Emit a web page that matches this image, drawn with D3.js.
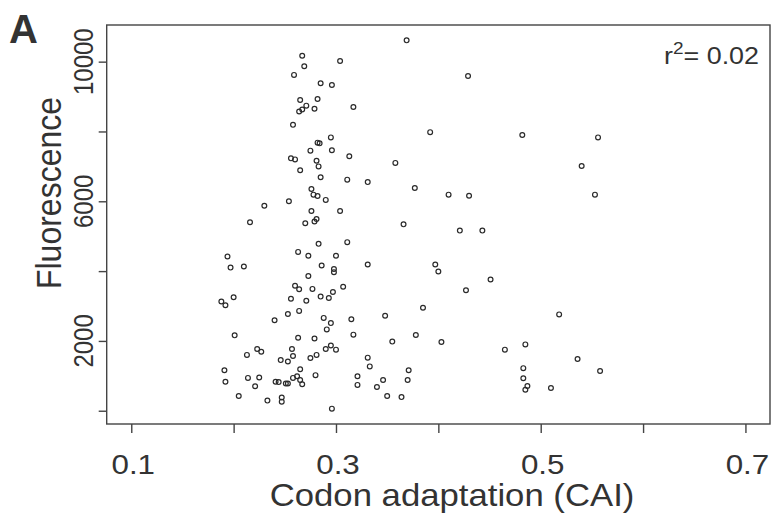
<!DOCTYPE html>
<meta charset="utf-8">
<style>
body { margin: 0; background: #fff; }
svg { display: block; }
text { font-family: 'Liberation Sans', Arial, sans-serif; fill: #333; }
.frame { fill: none; stroke: #444; stroke-width: 1.4px; }
.tick line { stroke: #444; stroke-width: 1.4px; }
circle.pt { fill: none; stroke: #2a2a2a; stroke-width: 1.2px; }
</style>
<body>
<svg width="775" height="516"></svg>
<script src="https://cdn.jsdelivr.net/npm/d3@7"></script>
<script>

// codon adaptation index of each gene
var cai = [
  0.267, 0.269, 0.259, 0.285, 0.265, 0.282, 0.264, 0.267, 0.271, 0.279,
  0.258, 0.282, 0.284, 0.275, 0.256, 0.260, 0.281, 0.283, 0.265, 0.285,
  0.276, 0.278, 0.282, 0.254, 0.230, 0.276, 0.216, 0.270, 0.279, 0.281,
  0.283, 0.263, 0.273, 0.194, 0.197, 0.210, 0.273, 0.260, 0.264, 0.277,
  0.188, 0.192, 0.200, 0.256, 0.271, 0.285, 0.253, 0.264, 0.240, 0.201,
  0.263, 0.279, 0.223, 0.227, 0.213, 0.257, 0.258, 0.246, 0.253, 0.275,
  0.281, 0.191, 0.192, 0.214, 0.225, 0.221, 0.265, 0.262, 0.258, 0.265,
  0.267, 0.280, 0.241, 0.244, 0.251, 0.253, 0.205, 0.233, 0.247, 0.247,
  0.369, 0.304, 0.296, 0.317, 0.392, 0.295, 0.296, 0.313, 0.358, 0.311,
  0.331, 0.377, 0.410, 0.290, 0.304, 0.366, 0.311, 0.300, 0.286, 0.298,
  0.298, 0.331, 0.397, 0.400, 0.307, 0.293, 0.297, 0.385, 0.348, 0.288,
  0.295, 0.291, 0.315, 0.317, 0.355, 0.378, 0.403, 0.290, 0.295, 0.300,
  0.331, 0.333, 0.321, 0.321, 0.346, 0.340, 0.350, 0.364, 0.371, 0.370,
  0.296, 0.429, 0.482, 0.556, 0.540, 0.430, 0.553, 0.421, 0.443, 0.451,
  0.427, 0.518, 0.465, 0.485, 0.536, 0.558, 0.483, 0.483, 0.487, 0.485,
  0.510
];

// GFP fluorescence of the same genes
var fluor = [
  10170, 9870, 9620, 9380, 8900, 8930, 8570, 8630, 8740, 8650,
  8190, 7680, 7660, 7450, 7230, 7200, 7160, 7000, 6890, 6690,
  6350, 6190, 6150, 6000, 5870, 5720, 5400, 5370, 5420, 5490,
  4780, 4550, 4440, 4420, 4100, 4130, 3860, 3580, 3480, 3490,
  3130, 3020, 3250, 3210, 3150, 3270, 2770, 2860, 2590, 2160,
  2090, 2070, 1770, 1690, 1600, 1770, 1570, 1450, 1410, 1510,
  1600, 1160, 830, 940, 950, 700, 1190, 990, 940, 880,
  760, 1020, 830, 820, 780, 780, 420, 290, 380, 260,
  10610, 10020, 9330, 8700, 7980, 7830, 7460, 7290, 7100, 6620,
  6550, 6380, 6190, 6040, 5720, 5340, 4830, 4440, 4160, 4060,
  3970, 4190, 4190, 3990, 3550, 3230, 3400, 2950, 2720, 2660,
  2510, 2330, 2620, 2180, 1980, 2170, 1970, 1770, 1870, 1750,
  1520, 1270, 990, 740, 880, 680, 420, 390, 1160, 880,
  60, 9590, 7900, 7830, 7010, 6160, 6190, 5160, 5160, 3760,
  3450, 2760, 1750, 1900, 1480, 1140, 1220, 930, 710, 600,
  650
];

var xTicks = [0.1, 0.2, 0.3, 0.4, 0.5, 0.6, 0.7];
var xLabels = ["0.1", "", "0.3", "", "0.5", "", "0.7"];
var yTicks = [0, 2000, 4000, 6000, 8000, 10000];
var yLabels = ["", "2000", "", "6000", "", "10000"];
var rSquared = "0.02";

var svg = d3.select("svg");
var sx = 1.12; // the figure is a bit stretched sideways

var box = {left: 106.7, right: 770, top: 25, bottom: 424};

var x = d3.scaleLinear()
    .domain([0.076, 0.724])
    .range([box.left, box.right]);

var y = d3.scaleLinear()
    .domain([-380, 11050])
    .range([box.bottom, box.top]);

function label(g, px, py, str, size, rot, anchor) {
    return g.append("text")
        .attr("transform", "translate(" + px + "," + py + ") scale(" + sx + ",1)" + (rot ? " rotate(-90)" : ""))
        .attr("text-anchor", anchor || "middle")
        .style("font-size", size + "px")
        .text(str);
}

// points
svg.append("g").selectAll("circle")
    .data(cai)
    .enter().append("circle")
        .attr("class", "pt")
        .attr("cx", function(d) { return x(d); })
        .attr("cy", function(d, i) { return y(fluor[i]); })
        .attr("r", 2.4);

// frame
svg.append("rect")
    .attr("class", "frame")
    .attr("x", box.left)
    .attr("y", box.top)
    .attr("width", box.right - box.left)
    .attr("height", box.bottom - box.top);

// x axis
var xa = svg.append("g")
    .attr("transform", "translate(0," + box.bottom + ")")
    .call(d3.axisBottom(x).tickValues(xTicks).tickSize(9).tickFormat(""));
xa.select(".domain").remove();

xTicks.forEach(function(t, i) {
    if (xLabels[i]) label(svg, x(t) + 2, 474, xLabels[i], 28);
});

// y axis
var ya = svg.append("g")
    .attr("transform", "translate(" + box.left + ",0)")
    .call(d3.axisLeft(y).tickValues(yTicks).tickSize(8).tickFormat(""));
ya.select(".domain").remove();

yTicks.forEach(function(t, i) {
    if (yLabels[i]) label(svg, 93, y(t), yLabels[i], 24, true);
});

// titles
label(svg, 452, 506, "Codon adaptation (CAI)", 31);
label(svg, 61, 193, "Fluorescence", 32, true);

var r2 = svg.append("text")
    .attr("transform", "translate(759,64) scale(" + sx + ",1)")
    .attr("text-anchor", "end")
    .style("font-size", "24px");
r2.append("tspan").text("r");
r2.append("tspan").attr("dy", -10).style("font-size", "17px").text("2");
r2.append("tspan").attr("dy", 10).text("= " + rSquared);

svg.append("text")
    .attr("x", 9)
    .attr("y", 43)
    .style("font-size", "40px")
    .style("font-weight", "bold")
    .text("A");

</script>
</body>
